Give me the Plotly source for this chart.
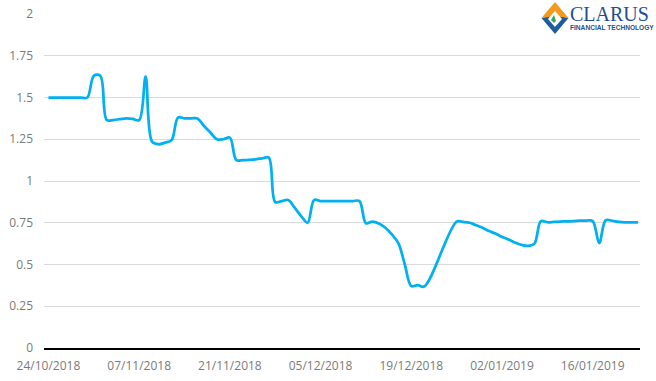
import plotly.graph_objects as go
import pandas as pd

dates = [
    "2018-10-24", "2018-10-25", "2018-10-26", "2018-10-27", "2018-10-28", "2018-10-29",
    "2018-10-30", "2018-10-31", "2018-11-01", "2018-11-02", "2018-11-03", "2018-11-04",
    "2018-11-05", "2018-11-06", "2018-11-07", "2018-11-08", "2018-11-09", "2018-11-10",
    "2018-11-11", "2018-11-12", "2018-11-13", "2018-11-14", "2018-11-15", "2018-11-16",
    "2018-11-17", "2018-11-18", "2018-11-19", "2018-11-20", "2018-11-21", "2018-11-22",
    "2018-11-23", "2018-11-24", "2018-11-25", "2018-11-26", "2018-11-27", "2018-11-28",
    "2018-11-29", "2018-11-30", "2018-12-01", "2018-12-02", "2018-12-03", "2018-12-04",
    "2018-12-05", "2018-12-06", "2018-12-07", "2018-12-08", "2018-12-09", "2018-12-10",
    "2018-12-11", "2018-12-12", "2018-12-13", "2018-12-14", "2018-12-15", "2018-12-16",
    "2018-12-17", "2018-12-18", "2018-12-19", "2018-12-20", "2018-12-21",
    "2018-12-26", "2018-12-27", "2018-12-28", "2018-12-29", "2018-12-30", "2018-12-31",
    "2019-01-01", "2019-01-02", "2019-01-03", "2019-01-04", "2019-01-05", "2019-01-06",
    "2019-01-07", "2019-01-08", "2019-01-09", "2019-01-10", "2019-01-11", "2019-01-12",
    "2019-01-13", "2019-01-14", "2019-01-15", "2019-01-16", "2019-01-17", "2019-01-18",
    "2019-01-19", "2019-01-20", "2019-01-21", "2019-01-22", "2019-01-23",
]

values = [
    1.50, 1.50, 1.50, 1.50, 1.50, 1.50,
    1.50, 1.63, 1.63, 1.365, 1.365, 1.37,
    1.375, 1.372, 1.365, 1.625, 1.235, 1.22,
    1.23, 1.245, 1.38, 1.375, 1.375, 1.375,
    1.33, 1.29, 1.25, 1.25, 1.26, 1.125,
    1.125, 1.127, 1.13, 1.135, 1.14, 0.874,
    0.88, 0.886, 0.84, 0.79, 0.75, 0.886,
    0.88, 0.88, 0.88, 0.88, 0.88, 0.88,
    0.88, 0.747, 0.757, 0.745, 0.72, 0.68,
    0.628, 0.50, 0.371, 0.377, 0.368,
    0.757, 0.755, 0.75, 0.735, 0.72, 0.70,
    0.685, 0.665, 0.65, 0.632, 0.618, 0.611,
    0.625, 0.76, 0.753, 0.755, 0.757, 0.758,
    0.76, 0.763, 0.763, 0.76, 0.628, 0.765,
    0.762, 0.755, 0.752, 0.752, 0.752,
]

tick_dates = ["2018-10-24", "2018-11-07", "2018-11-21", "2018-12-05",
              "2018-12-19", "2019-01-02", "2019-01-16"]
tick_labels = ["24/10/2018", "07/11/2018", "21/11/2018", "05/12/2018",
               "19/12/2018", "02/01/2019", "16/01/2019"]
y_ticks = [0, 0.25, 0.5, 0.75, 1, 1.25, 1.5, 1.75, 2]
y_labels = ["0", "0.25", "0.5", "0.75", "1", "1.25", "1.5", "1.75", "2"]

W, H = 656, 381
ML, MR, MT, MB = 44, 16, 14, 33
PW, PH = W - ML - MR, H - MT - MB


def px(x):
    return (x - ML) / PW


def py(y):
    return (H - MB - y) / PH


fig = go.Figure()
fig.add_trace(go.Scatter(
    x=pd.to_datetime(dates), y=values, mode="lines",
    line=dict(color="#00b0f0", width=2.75, shape="spline", smoothing=1.0),
    hoverinfo="skip", showlegend=False,
))

start = pd.Timestamp("2018-10-24")
x_range = [start - pd.Timedelta(hours=16.5), start + pd.Timedelta(hours=24 * 91.3)]

tick_font = dict(family="Open Sans", size=12, color="#7a7a7a")

fig.update_layout(
    width=W, height=H,
    margin=dict(l=ML, r=MR, t=MT, b=MB, pad=0, autoexpand=False),
    paper_bgcolor="white", plot_bgcolor="white",
    xaxis=dict(
        type="date", range=x_range, automargin=False,
        tickvals=pd.to_datetime(tick_dates), ticktext=tick_labels,
        showgrid=False, zeroline=False,
        showline=True, linecolor="black", linewidth=2,
        ticks="", tickfont=tick_font, ticklabelstandoff=6,
    ),
    yaxis=dict(
        range=[0, 2], tickvals=y_ticks, ticktext=y_labels, automargin=False,
        showgrid=True, gridcolor="#d9d9d9", gridwidth=1,
        zeroline=False, showline=False,
        ticks="", tickfont=tick_font, ticklabelstandoff=10,
    ),
)

# Logo (CLARUS Financial Technology)
shapes = []
shapes.append(dict(type="rect", xref="paper", yref="paper",
                   x0=px(541), x1=px(656), y0=py(37), y1=py(0),
                   fillcolor="white", line=dict(width=0), layer="above"))


def path(points):
    return "M " + " L ".join(f"{px(a):.5f},{py(b):.5f}" for a, b in points) + " Z"


cx, cy = 555, 18
# blue lower chevron
shapes.append(dict(type="path", xref="paper", yref="paper",
                   path=path([(cx - 13.5, cy), (cx, cy - 3), (cx + 13.5, cy), (cx, cy + 16)]),
                   fillcolor="#1f5c9e", line=dict(width=0), layer="above"))
# orange upper chevron
shapes.append(dict(type="path", xref="paper", yref="paper",
                   path=path([(cx - 13.5, cy), (cx, cy - 16), (cx + 13.5, cy), (cx, cy - 2)]),
                   fillcolor="#f39a1e", line=dict(width=0), layer="above"))
# white inner diamond
shapes.append(dict(type="path", xref="paper", yref="paper",
                   path=path([(cx - 7, cy + 1), (cx, cy - 7), (cx + 7, cy + 1), (cx, cy + 9)]),
                   fillcolor="white", line=dict(width=0), layer="above"))
# green leaf
shapes.append(dict(type="path", xref="paper", yref="paper",
                   path=path([(cx - 4, cy + 2), (cx - 1, cy - 3), (cx + 1, cy + 3), (cx - 1, cy + 5)]),
                   fillcolor="#3aa655", line=dict(width=0), layer="above"))
fig.update_layout(shapes=shapes)

fig.add_annotation(text="CLARUS", xref="paper", yref="paper",
                   x=px(609), y=py(13.5), xanchor="center", yanchor="middle",
                   showarrow=False,
                   font=dict(family="Liberation Serif", size=20, color="#1f4f8f"))
fig.add_annotation(text="<b>FINANCIAL TECHNOLOGY</b>", xref="paper", yref="paper",
                   x=px(612), y=py(27), xanchor="center", yanchor="middle",
                   showarrow=False,
                   font=dict(family="Liberation Sans", size=6.6, color="#1f4f8f"))

fig.write_html("out.html", config={"displayModeBar": False},
               post_script="document.body.style.margin='0px';")
